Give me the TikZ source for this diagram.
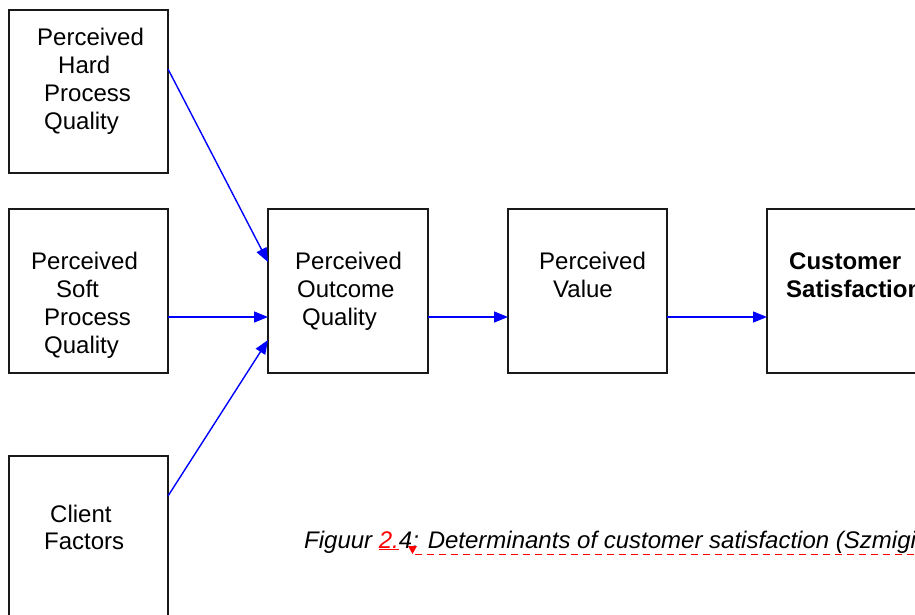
\documentclass[tikz,border=0pt]{standalone}
\usepackage{fontspec}
\setmainfont{Liberation Sans}
\usetikzlibrary{arrows.meta}
\begin{document}
\begin{tikzpicture}[x=1pt,y=-1pt,
  box/.style={draw=black!90, line width=1.4pt, rectangle, anchor=north west, inner sep=0pt, outer sep=0pt},
  lbl/.style={anchor=base west, inner sep=0pt, font=\fontsize{24}{28}\selectfont},
  blbl/.style={lbl, font=\fontsize{24}{28}\selectfont\bfseries},
  flow/.style={draw=blue, line width=1.4pt, -{Triangle[length=14pt,width=11pt]}}]
\useasboundingbox (0,0) rectangle (915,614);

% boxes
\node[box, minimum width=159pt, minimum height=163pt] (hard) at (9,10) {};
\node[box, minimum width=159pt, minimum height=164pt] (soft) at (9,209) {};
\node[box, minimum width=159pt, minimum height=175pt] (client) at (9,456) {};
\node[box, minimum width=160pt, minimum height=164pt] (outcome) at (268,209) {};
\node[box, minimum width=159pt, minimum height=164pt] (value) at (508,209) {};
\node[box, minimum width=170pt, minimum height=164pt] (cust) at (767,209) {};

% box texts
\node[lbl] (h1) at (37,45) {Perceived};
\node[lbl] (h2) at (58,73) {Hard};
\node[lbl] (h3) at (44,101) {Process};
\node[lbl] (h4) at (44,129) {Quality};

\node[lbl] (s1) at (31,269) {Perceived};
\node[lbl] (s2) at (56,297) {Soft};
\node[lbl] (s3) at (44,325) {Process};
\node[lbl] (s4) at (44,353) {Quality};

\node[lbl] (c1) at (50,522) {Client};
\node[lbl] (c2) at (44,549) {Factors};

\node[lbl] (o1) at (295,269) {Perceived};
\node[lbl] (o2) at (297,297) {Outcome};
\node[lbl] (o3) at (302,325) {Quality};

\node[lbl] (v1) at (539,269) {Perceived};
\node[lbl] (v2) at (553,297) {Value};

\node[blbl] (cs1) at (789,269) {Customer};
\node[blbl] (cs2) at (786,297) {Satisfaction};

% connectors
\draw[flow] ([yshift=-59pt]hard.north east) -- ([yshift=-53pt]outcome.north west);
\draw[flow] ([yshift=-108pt]soft.north east) -- ([yshift=-108pt]outcome.north west);
\draw[flow] ([yshift=-40pt]client.north east) -- ([yshift=-131pt]outcome.north west);
\draw[flow] ([yshift=-108pt]outcome.north east) -- ([yshift=-108pt]value.north west);
\draw[flow] ([yshift=-108pt]value.north east) -- ([yshift=-108pt]cust.north west);

% caption with revision marks
\node[lbl, font=\fontsize{24}{28}\selectfont\itshape] (cap) at (304,548)
  {Figuur \textcolor{red}{\underline{2.}}4: Determinants of customer satisfaction (Szmigin};
\coordinate (dashA) at (415,554);
\coordinate (dashB) at (915,554);
\draw[red, line width=1pt, dash pattern=on 7pt off 5pt] (dashA) -- (dashB);
\fill[red] (408,546) -- (417,546) -- (412.5,554) -- cycle;
\end{tikzpicture}
\end{document}
